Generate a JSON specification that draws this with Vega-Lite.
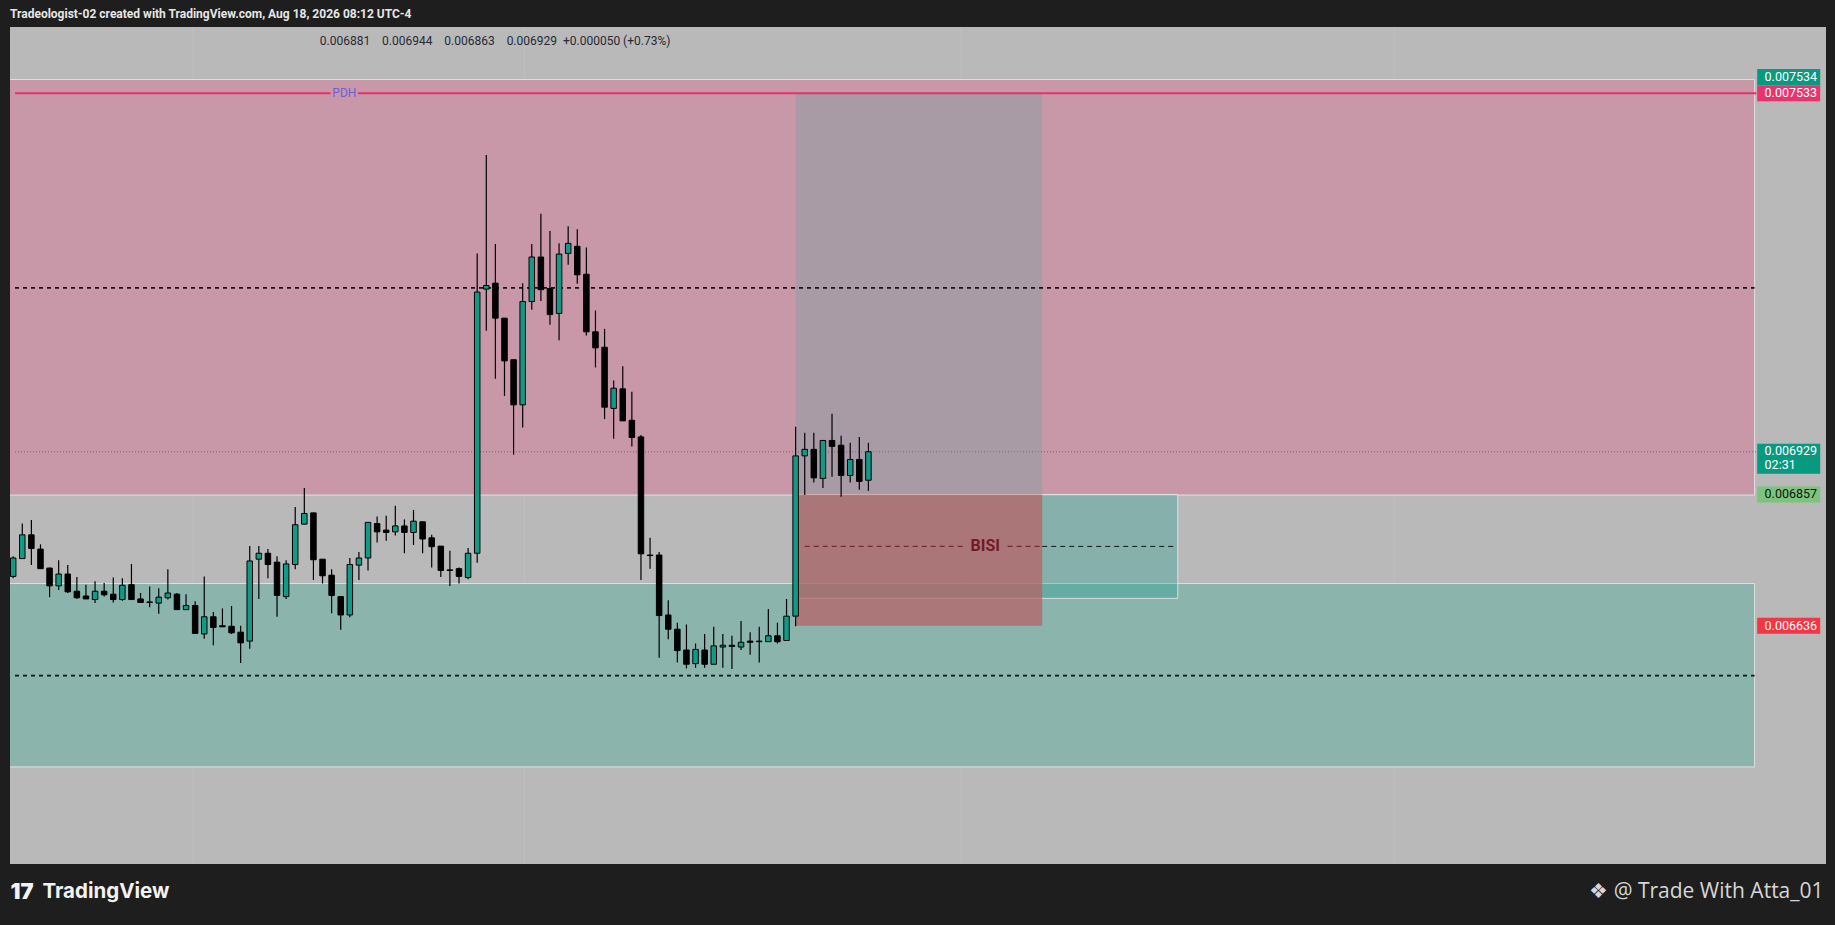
{
  "$schema": "https://vega.github.io/schema/vega-lite/v6.json",
  "autosize": {"type": "none"},
  "padding": {"left": 10, "top": 27, "right": 9, "bottom": 61},
  "width": 1816,
  "height": 837,
  "background": "#1e1e1e",
  "title": {
    "text": "Tradeologist-02 created with TradingView.com, Aug 18, 2026 08:12 UTC-4",
    "anchor": "start",
    "frame": "group",
    "orient": "top",
    "offset": 1,
    "baseline": "middle",
    "font": "Roboto",
    "fontSize": 12,
    "fontWeight": "bold",
    "color": "#e6e6e6"
  },
  "config": {
    "view": {"stroke": null, "fill": "#b9b9b9"},
    "axis": {"labels": false, "ticks": false, "domain": false, "grid": false}
  },
  "datasets": {
    "candles": [
      {"t": 0, "o": 0.006719, "h": 0.006753, "l": 0.006716, "c": 0.006750},
      {"t": 1, "o": 0.006749, "h": 0.006808, "l": 0.006749, "c": 0.006789},
      {"t": 2, "o": 0.006789, "h": 0.006814, "l": 0.006738, "c": 0.006766},
      {"t": 3, "o": 0.006765, "h": 0.006773, "l": 0.006732, "c": 0.006732},
      {"t": 4, "o": 0.006733, "h": 0.006734, "l": 0.006684, "c": 0.006703},
      {"t": 5, "o": 0.006703, "h": 0.006746, "l": 0.006696, "c": 0.006723},
      {"t": 6, "o": 0.006723, "h": 0.006738, "l": 0.006691, "c": 0.006693},
      {"t": 7, "o": 0.006694, "h": 0.006718, "l": 0.006681, "c": 0.006683},
      {"t": 8, "o": 0.006686, "h": 0.006705, "l": 0.006681, "c": 0.006681},
      {"t": 9, "o": 0.006680, "h": 0.006711, "l": 0.006674, "c": 0.006694},
      {"t": 10, "o": 0.006694, "h": 0.006708, "l": 0.006685, "c": 0.006688},
      {"t": 11, "o": 0.006689, "h": 0.006717, "l": 0.006675, "c": 0.006680},
      {"t": 12, "o": 0.006680, "h": 0.006716, "l": 0.006678, "c": 0.006704},
      {"t": 13, "o": 0.006705, "h": 0.006740, "l": 0.006680, "c": 0.006680},
      {"t": 14, "o": 0.006681, "h": 0.006691, "l": 0.006675, "c": 0.006675},
      {"t": 15, "o": 0.006676, "h": 0.006702, "l": 0.006667, "c": 0.006675},
      {"t": 16, "o": 0.006674, "h": 0.006699, "l": 0.006656, "c": 0.006684},
      {"t": 17, "o": 0.006683, "h": 0.006731, "l": 0.006680, "c": 0.006691},
      {"t": 18, "o": 0.006689, "h": 0.006691, "l": 0.006663, "c": 0.006663},
      {"t": 19, "o": 0.006663, "h": 0.006689, "l": 0.006663, "c": 0.006670},
      {"t": 20, "o": 0.006670, "h": 0.006677, "l": 0.006623, "c": 0.006623},
      {"t": 21, "o": 0.006622, "h": 0.006719, "l": 0.006614, "c": 0.006651},
      {"t": 22, "o": 0.006651, "h": 0.006659, "l": 0.006603, "c": 0.006633},
      {"t": 23, "o": 0.006636, "h": 0.006665, "l": 0.006634, "c": 0.006634},
      {"t": 24, "o": 0.006635, "h": 0.006669, "l": 0.006622, "c": 0.006624},
      {"t": 25, "o": 0.006625, "h": 0.006636, "l": 0.006573, "c": 0.006607},
      {"t": 26, "o": 0.006610, "h": 0.006770, "l": 0.006597, "c": 0.006745},
      {"t": 27, "o": 0.006748, "h": 0.006770, "l": 0.006681, "c": 0.006758},
      {"t": 28, "o": 0.006758, "h": 0.006765, "l": 0.006716, "c": 0.006739},
      {"t": 29, "o": 0.006743, "h": 0.006753, "l": 0.006651, "c": 0.006687},
      {"t": 30, "o": 0.006685, "h": 0.006746, "l": 0.006681, "c": 0.006740},
      {"t": 31, "o": 0.006739, "h": 0.006836, "l": 0.006731, "c": 0.006806},
      {"t": 32, "o": 0.006807, "h": 0.006868, "l": 0.006807, "c": 0.006825},
      {"t": 33, "o": 0.006826, "h": 0.006826, "l": 0.006713, "c": 0.006747},
      {"t": 34, "o": 0.006748, "h": 0.006748, "l": 0.006707, "c": 0.006720},
      {"t": 35, "o": 0.006721, "h": 0.006731, "l": 0.006657, "c": 0.006687},
      {"t": 36, "o": 0.006685, "h": 0.006685, "l": 0.006629, "c": 0.006654},
      {"t": 37, "o": 0.006654, "h": 0.006750, "l": 0.006650, "c": 0.006739},
      {"t": 38, "o": 0.006738, "h": 0.006760, "l": 0.006713, "c": 0.006750},
      {"t": 39, "o": 0.006750, "h": 0.006810, "l": 0.006729, "c": 0.006810},
      {"t": 40, "o": 0.006808, "h": 0.006820, "l": 0.006776, "c": 0.006794},
      {"t": 41, "o": 0.006797, "h": 0.006821, "l": 0.006779, "c": 0.006793},
      {"t": 42, "o": 0.006794, "h": 0.006838, "l": 0.006788, "c": 0.006804},
      {"t": 43, "o": 0.006804, "h": 0.006815, "l": 0.006758, "c": 0.006793},
      {"t": 44, "o": 0.006793, "h": 0.006831, "l": 0.006772, "c": 0.006812},
      {"t": 45, "o": 0.006811, "h": 0.006811, "l": 0.006758, "c": 0.006782},
      {"t": 46, "o": 0.006784, "h": 0.006789, "l": 0.006734, "c": 0.006769},
      {"t": 47, "o": 0.006770, "h": 0.006770, "l": 0.006718, "c": 0.006729},
      {"t": 48, "o": 0.006730, "h": 0.006762, "l": 0.006703, "c": 0.006729},
      {"t": 49, "o": 0.006732, "h": 0.006734, "l": 0.006707, "c": 0.006719},
      {"t": 50, "o": 0.006717, "h": 0.006767, "l": 0.006714, "c": 0.006758},
      {"t": 51, "o": 0.006758, "h": 0.007263, "l": 0.006742, "c": 0.007198},
      {"t": 52, "o": 0.007203, "h": 0.007429, "l": 0.007133, "c": 0.007209},
      {"t": 53, "o": 0.007213, "h": 0.007279, "l": 0.007052, "c": 0.007154},
      {"t": 54, "o": 0.007154, "h": 0.007154, "l": 0.007023, "c": 0.007082},
      {"t": 55, "o": 0.007084, "h": 0.007084, "l": 0.006924, "c": 0.007008},
      {"t": 56, "o": 0.007008, "h": 0.007213, "l": 0.006970, "c": 0.007182},
      {"t": 57, "o": 0.007182, "h": 0.007279, "l": 0.007168, "c": 0.007257},
      {"t": 58, "o": 0.007257, "h": 0.007330, "l": 0.007183, "c": 0.007202},
      {"t": 59, "o": 0.007204, "h": 0.007301, "l": 0.007143, "c": 0.007160},
      {"t": 60, "o": 0.007162, "h": 0.007280, "l": 0.007117, "c": 0.007262},
      {"t": 61, "o": 0.007263, "h": 0.007309, "l": 0.007244, "c": 0.007280},
      {"t": 62, "o": 0.007275, "h": 0.007304, "l": 0.007212, "c": 0.007227},
      {"t": 63, "o": 0.007228, "h": 0.007273, "l": 0.007125, "c": 0.007131},
      {"t": 64, "o": 0.007131, "h": 0.007167, "l": 0.007071, "c": 0.007104},
      {"t": 65, "o": 0.007105, "h": 0.007136, "l": 0.006984, "c": 0.007004},
      {"t": 66, "o": 0.007002, "h": 0.007049, "l": 0.006951, "c": 0.007036},
      {"t": 67, "o": 0.007035, "h": 0.007073, "l": 0.006981, "c": 0.006981},
      {"t": 68, "o": 0.006982, "h": 0.007030, "l": 0.006938, "c": 0.006953},
      {"t": 69, "o": 0.006954, "h": 0.006957, "l": 0.006713, "c": 0.006757},
      {"t": 70, "o": 0.006755, "h": 0.006784, "l": 0.006732, "c": 0.006754},
      {"t": 71, "o": 0.006755, "h": 0.006760, "l": 0.006582, "c": 0.006653},
      {"t": 72, "o": 0.006654, "h": 0.006679, "l": 0.006613, "c": 0.006630},
      {"t": 73, "o": 0.006630, "h": 0.006641, "l": 0.006574, "c": 0.006594},
      {"t": 74, "o": 0.006595, "h": 0.006638, "l": 0.006564, "c": 0.006571},
      {"t": 75, "o": 0.006572, "h": 0.006606, "l": 0.006565, "c": 0.006596},
      {"t": 76, "o": 0.006595, "h": 0.006622, "l": 0.006565, "c": 0.006571},
      {"t": 77, "o": 0.006571, "h": 0.006634, "l": 0.006571, "c": 0.006602},
      {"t": 78, "o": 0.006600, "h": 0.006622, "l": 0.006565, "c": 0.006603},
      {"t": 79, "o": 0.006603, "h": 0.006619, "l": 0.006563, "c": 0.006601},
      {"t": 80, "o": 0.006600, "h": 0.006644, "l": 0.006595, "c": 0.006608},
      {"t": 81, "o": 0.006610, "h": 0.006625, "l": 0.006587, "c": 0.006608},
      {"t": 82, "o": 0.006610, "h": 0.006634, "l": 0.006574, "c": 0.006609},
      {"t": 83, "o": 0.006609, "h": 0.006664, "l": 0.006609, "c": 0.006619},
      {"t": 84, "o": 0.006619, "h": 0.006641, "l": 0.006606, "c": 0.006609},
      {"t": 85, "o": 0.006611, "h": 0.006681, "l": 0.006611, "c": 0.006652},
      {"t": 86, "o": 0.006652, "h": 0.006971, "l": 0.006635, "c": 0.006922},
      {"t": 87, "o": 0.006922, "h": 0.006961, "l": 0.006856, "c": 0.006933},
      {"t": 88, "o": 0.006933, "h": 0.006961, "l": 0.006877, "c": 0.006885},
      {"t": 89, "o": 0.006884, "h": 0.006948, "l": 0.006868, "c": 0.006948},
      {"t": 90, "o": 0.006948, "h": 0.006993, "l": 0.006887, "c": 0.006938},
      {"t": 91, "o": 0.006940, "h": 0.006956, "l": 0.006853, "c": 0.006889},
      {"t": 92, "o": 0.006889, "h": 0.006944, "l": 0.006877, "c": 0.006916},
      {"t": 93, "o": 0.006916, "h": 0.006954, "l": 0.006865, "c": 0.006879},
      {"t": 94, "o": 0.006881, "h": 0.006944, "l": 0.006863, "c": 0.006929}
    ],
    "zones": [
      {"kind": "premium", "x0": -1, "x1": 191.4, "lo": 0.006856, "hi": 0.007556},
      {"kind": "discount", "x0": -1, "x1": 191.4, "lo": 0.006398, "hi": 0.006707},
      {"kind": "target", "x0": 86.0, "x1": 113.1, "lo": 0.006857, "hi": 0.007534},
      {"kind": "bisi", "x0": 86.0, "x1": 128.0, "lo": 0.006682, "hi": 0.006857},
      {"kind": "stop", "x0": 86.0, "x1": 113.1, "lo": 0.006636, "hi": 0.006857}
    ],
    "levels": [
      {"kind": "pdh", "x0": 0.2, "x1": 34.9, "p": 0.007533},
      {"kind": "pdh", "x0": 37.9, "x1": 191.6, "p": 0.007533},
      {"kind": "eq", "x0": 0.2, "x1": 191.4, "p": 0.007205},
      {"kind": "eq", "x0": 0.2, "x1": 191.4, "p": 0.006552},
      {"kind": "last", "x0": 0.2, "x1": 191.6, "p": 0.006929},
      {"kind": "bisi_in", "x0": 87.0, "x1": 104.4, "p": 0.0067695},
      {"kind": "bisi_in", "x0": 109.3, "x1": 113.1, "p": 0.0067695},
      {"kind": "bisi_out", "x0": 113.1, "x1": 127.6, "p": 0.0067695}
    ],
    "grid": [{"t": 19.8}, {"t": 56.2}, {"t": 104.2}, {"t": 151.8}],
    "notes": [
      {"kind": "pdh", "t": 36.4, "p": 0.007533, "text": "PDH"},
      {"kind": "bisi", "t": 106.85, "p": 0.0067695, "text": "BISI"},
      {"kind": "ohlc", "t": 33.7, "p": 0.007621, "text": "0.006881\u00a0\u00a0\u00a0\u00a00.006944\u00a0\u00a0\u00a0\u00a00.006863\u00a0\u00a0\u00a0\u00a00.006929\u00a0\u00a0+0.000050 (+0.73%)"}
    ],
    "tags": [
      {"kind": "pdh", "p": 0.007533, "text": "0.007533"},
      {"kind": "entry", "p": 0.006857, "text": "0.006857"},
      {"kind": "stop", "p": 0.006636, "text": "0.006636"}
    ]
  },
  "resolve": {"axis": {"y": "independent"}, "scale": {"color": "independent"}},
  "layer": [
    {
      "data": {"name": "grid"},
      "mark": {"type": "rule", "color": "#bfbfbf", "strokeWidth": 1},
      "encoding": {
        "x": {"field": "t", "type": "quantitative", "scale": {"domain": [0.2, 198.7], "nice": false, "zero": false}, "axis": {"title": "TradingView", "titleX": 32, "titleY": 27, "titleAlign": "left", "titleAnchor": "start", "titleBaseline": "middle", "titleFont": "Inter", "titleFontSize": 20.5, "titleFontWeight": 700, "titleColor": "#f2f2f2"}}
      }
    },
    {
      "data": {"name": "zones"},
      "mark": {"type": "rect", "strokeWidth": 1, "clip": true},
      "encoding": {
        "x": {"field": "x0", "type": "quantitative", "scale": {"domain": [0.2, 198.7], "nice": false, "zero": false}},
        "x2": {"field": "x1"},
        "y": {"field": "lo", "type": "quantitative", "scale": {"domain": [0.0062345, 0.0076445], "nice": false, "zero": false}, "axis": null},
        "y2": {"field": "hi"},
        "fill": {"field": "kind", "type": "nominal", "legend": null, "scale": {"domain": ["premium", "discount", "target", "bisi", "stop"], "range": ["#c898a8", "#8bb4ac", "#a99ba6", "rgba(18,154,138,0.3)", "rgba(185,96,100,0.72)"]}},
        "stroke": {"field": "kind", "type": "nominal", "legend": null, "scale": {"domain": ["premium", "discount", "target", "bisi", "stop"], "range": ["#e0e0e0", "#e0e0e0", "rgba(0,0,0,0)", "rgba(235,235,235,0.8)", "rgba(0,0,0,0)"]}}
      }
    },
    {
      "data": {"name": "levels"},
      "mark": {"type": "rule", "clip": true},
      "encoding": {
        "x": {"field": "x0", "type": "quantitative", "scale": {"domain": [0.2, 198.7], "nice": false, "zero": false}},
        "x2": {"field": "x1"},
        "y": {"field": "p", "type": "quantitative", "scale": {"domain": [0.0062345, 0.0076445], "nice": false, "zero": false}, "axis": null},
        "color": {"field": "kind", "type": "nominal", "legend": null, "scale": {"domain": ["pdh", "eq", "last", "bisi_in", "bisi_out"], "range": ["#e5326c", "#151515", "#7d7d7d", "#7a2830", "#151515"]}},
        "strokeDash": {"field": "kind", "type": "nominal", "legend": null, "scale": {"domain": ["pdh", "eq", "last", "bisi_in", "bisi_out"], "range": [[1, 0], [4, 4], [1, 2], [5, 4], [5, 4]]}},
        "strokeWidth": {"field": "kind", "type": "nominal", "legend": null, "scale": {"domain": ["pdh", "eq", "last", "bisi_in", "bisi_out"], "range": [2, 1, 1, 1, 1]}}
      }
    },
    {
      "data": {"name": "candles"},
      "mark": {"type": "rule", "color": "#000000", "strokeWidth": 1.2, "clip": true},
      "encoding": {
        "x": {"field": "t", "type": "quantitative", "scale": {"domain": [0.2, 198.7], "nice": false, "zero": false}},
        "y": {"field": "l", "type": "quantitative", "scale": {"domain": [0.0062345, 0.0076445], "nice": false, "zero": false}, "axis": {"orient": "left", "title": "17", "titleAngle": 0, "titleX": 0, "titleY": 864, "titleAlign": "left", "titleBaseline": "middle", "titleFont": "Inter", "titleFontSize": 22, "titleFontWeight": 900, "titleColor": "#f2f2f2"}},
        "y2": {"field": "h"}
      }
    },
    {
      "data": {"name": "candles"},
      "mark": {"type": "bar", "width": 5.5, "stroke": "#000000", "strokeWidth": 1, "clip": true},
      "encoding": {
        "x": {"field": "t", "type": "quantitative", "scale": {"domain": [0.2, 198.7], "nice": false, "zero": false}},
        "y": {"field": "o", "type": "quantitative", "scale": {"domain": [0.0062345, 0.0076445], "nice": false, "zero": false}, "axis": null},
        "y2": {"field": "c"},
        "color": {"condition": {"test": "datum.c > datum.o", "value": "#129a86"}, "value": "#000000"}
      }
    },
    {
      "data": {"name": "notes"},
      "transform": [{"filter": "datum.kind == 'pdh'"}],
      "mark": {"type": "text", "align": "center", "baseline": "middle", "font": "Roboto", "fontSize": 12, "color": "#6c5fd8"},
      "encoding": {
        "x": {"field": "t", "type": "quantitative", "scale": {"domain": [0.2, 198.7], "nice": false, "zero": false}},
        "y": {"field": "p", "type": "quantitative", "scale": {"domain": [0.0062345, 0.0076445], "nice": false, "zero": false}, "axis": null},
        "text": {"field": "text"}
      }
    },
    {
      "data": {"name": "notes"},
      "transform": [{"filter": "datum.kind == 'bisi'"}],
      "mark": {"type": "text", "align": "center", "baseline": "middle", "font": "Roboto", "fontSize": 16, "fontWeight": "bold", "color": "#741a24"},
      "encoding": {
        "x": {"field": "t", "type": "quantitative", "scale": {"domain": [0.2, 198.7], "nice": false, "zero": false}},
        "y": {"field": "p", "type": "quantitative", "scale": {"domain": [0.0062345, 0.0076445], "nice": false, "zero": false}, "axis": null},
        "text": {"field": "text"}
      }
    },
    {
      "data": {"name": "notes"},
      "transform": [{"filter": "datum.kind == 'ohlc'"}],
      "mark": {"type": "text", "align": "left", "baseline": "middle", "font": "Roboto", "fontSize": 12, "color": "#262a35"},
      "encoding": {
        "x": {"field": "t", "type": "quantitative", "scale": {"domain": [0.2, 198.7], "nice": false, "zero": false}},
        "y": {"field": "p", "type": "quantitative", "scale": {"domain": [0.0062345, 0.0076445], "nice": false, "zero": false}, "axis": null},
        "text": {"field": "text"}
      }
    },
    {
      "data": {"name": "tags"},
      "mark": {"type": "point", "filled": true, "opacity": 1, "size": 3969, "shape": "M-1,-0.254L1,-0.254L1,0.254L-1,0.254Z"},
      "encoding": {
        "x": {"datum": 195.15, "type": "quantitative", "scale": {"domain": [0.2, 198.7], "nice": false, "zero": false}},
        "y": {"field": "p", "type": "quantitative", "scale": {"domain": [0.0062345, 0.0076445], "nice": false, "zero": false}, "axis": null},
        "color": {"field": "kind", "type": "nominal", "legend": null, "scale": {"domain": ["pdh", "entry", "stop"], "range": ["#e8336e", "#7cc47c", "#f23645"]}}
      }
    },
    {
      "data": {"name": "tags"},
      "mark": {"type": "text", "align": "left", "baseline": "middle", "font": "Roboto", "fontSize": 12.5},
      "encoding": {
        "x": {"datum": 192.5, "type": "quantitative", "scale": {"domain": [0.2, 198.7], "nice": false, "zero": false}},
        "y": {"field": "p", "type": "quantitative", "scale": {"domain": [0.0062345, 0.0076445], "nice": false, "zero": false}, "axis": {"orient": "right", "title": "\u2756 @ Trade With Atta_01", "titleAngle": 0, "titleX": -3, "titleY": 864, "titleAlign": "right", "titleBaseline": "middle", "titleFont": "Open Sans", "titleFontSize": 21, "titleFontWeight": "normal", "titleColor": "#d6d6d6"}},
        "text": {"field": "text"},
        "color": {"condition": {"test": "datum.kind == 'entry'", "value": "#111111"}, "value": "#ffffff"}
      }
    },
    {
      "data": {"values": [{"p": 0.007534, "text": "0.007534"}]},
      "mark": {"type": "point", "filled": true, "opacity": 1, "size": 3969, "color": "#089981", "shape": "M-1,-0.752L1,-0.752L1,-0.244L-1,-0.244Z"},
      "encoding": {
        "x": {"datum": 195.15, "type": "quantitative", "scale": {"domain": [0.2, 198.7], "nice": false, "zero": false}},
        "y": {"field": "p", "type": "quantitative", "scale": {"domain": [0.0062345, 0.0076445], "nice": false, "zero": false}, "axis": null}
      }
    },
    {
      "data": {"values": [{"p": 0.007534, "text": "0.007534"}]},
      "mark": {"type": "text", "align": "left", "baseline": "middle", "dy": -16, "font": "Roboto", "fontSize": 12.5, "color": "#ffffff"},
      "encoding": {
        "x": {"datum": 192.5, "type": "quantitative", "scale": {"domain": [0.2, 198.7], "nice": false, "zero": false}},
        "y": {"field": "p", "type": "quantitative", "scale": {"domain": [0.0062345, 0.0076445], "nice": false, "zero": false}, "axis": null},
        "text": {"field": "text"}
      }
    },
    {
      "data": {"values": [{"p": 0.006929, "text": "0.006929\n02:31"}]},
      "mark": {"type": "point", "filled": true, "opacity": 1, "size": 3969, "color": "#089981", "shape": "M-1,-0.254L1,-0.254L1,0.698L-1,0.698Z"},
      "encoding": {
        "x": {"datum": 195.15, "type": "quantitative", "scale": {"domain": [0.2, 198.7], "nice": false, "zero": false}},
        "y": {"field": "p", "type": "quantitative", "scale": {"domain": [0.0062345, 0.0076445], "nice": false, "zero": false}, "axis": null}
      }
    },
    {
      "data": {"values": [{"p": 0.006929, "text": "0.006929\n02:31"}]},
      "mark": {"type": "text", "align": "left", "baseline": "top", "dy": -7, "lineBreak": "\n", "lineHeight": 14, "font": "Roboto", "fontSize": 12.5, "color": "#ffffff"},
      "encoding": {
        "x": {"datum": 192.5, "type": "quantitative", "scale": {"domain": [0.2, 198.7], "nice": false, "zero": false}},
        "y": {"field": "p", "type": "quantitative", "scale": {"domain": [0.0062345, 0.0076445], "nice": false, "zero": false}, "axis": null},
        "text": {"field": "text"}
      }
    }
  ]
}
